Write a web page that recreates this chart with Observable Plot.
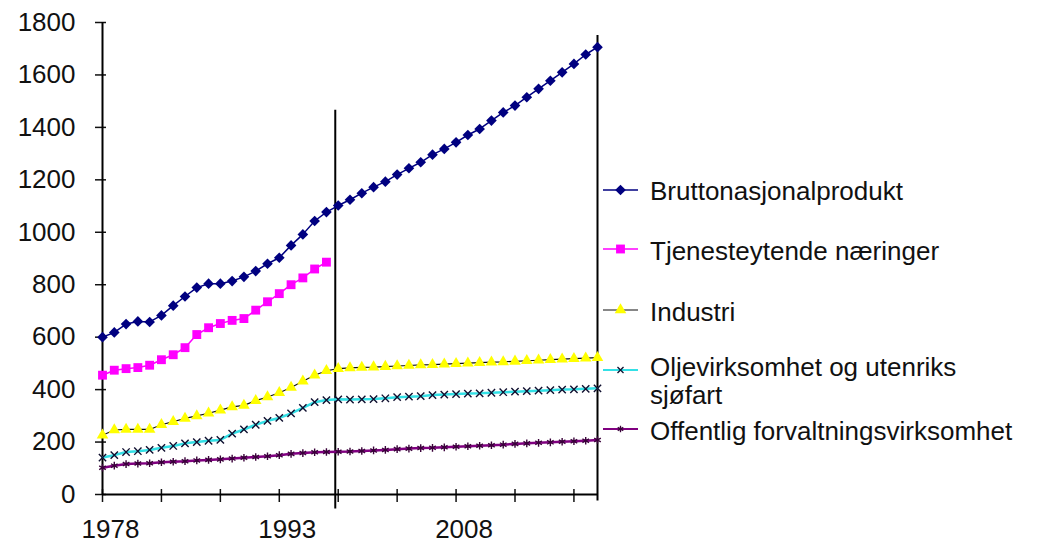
<!DOCTYPE html>
<html><head><meta charset="utf-8">
<script src="https://cdn.jsdelivr.net/npm/d3@7"></script>
<script src="https://cdn.jsdelivr.net/npm/@observablehq/plot@0.6"></script>
<style>
body{margin:0;background:#fff;}
#wrap{position:relative;width:1041px;height:543px;overflow:hidden;font-family:"Liberation Sans",Arial,sans-serif;}
.leg{position:absolute;left:650px;font-size:26px;line-height:23px;height:23px;color:#111;white-space:nowrap;}
.sw{position:absolute;left:600px;}
</style></head><body><div id="wrap"></div>
<script>
// ---------- data ----------
const firstYear = 1978;
const seriesNames = ["Bruttonasjonalprodukt", "Tjenesteytende næringer", "Industri", "Oljevirksomhet og utenriks sjøfart", "Offentlig forvaltningsvirksomhet"];
const legendLines = [["Bruttonasjonalprodukt"], ["Tjenesteytende næringer"], ["Industri"], ["Oljevirksomhet og utenriks", "sjøfart"], ["Offentlig forvaltningsvirksomhet"]];
const bnp = [600,618,650,660,658,683,720,755,789,804,804,814,830,852,880,903,950,992,1043,1077,1102,
             1124,1149,1172,1193,1220,1244,1267,1296,1318,1343,1371,1394,1426,1457,1483,1515,1547,1578,1610,1642,1678,1706];
const tjenester = [455,474,480,484,493,514,533,560,610,636,652,664,671,703,735,766,800,826,860,886];
const industri = [226,246,248,248,248,266,278,290,300,310,322,334,340,358,372,388,408,432,455,472,480,
                  483,485,486,488,490,492,494,495,497,499,501,503,505,506,508,510,512,514,516,518,520,522];
const olje = [141,150,162,165,170,178,185,195,200,205,208,232,248,266,281,292,309,330,352,360,363,
              362,363,364,367,371,373,375,379,381,383,385,386,388,390,392,394,396,398,400,401,403,405];
const offentlig = [102,110,116,118,119,123,125,127,130,132,134,137,140,143,146,150,155,158,161,162,163,
                   164,166,168,170,173,175,177,178,180,182,184,186,188,190,193,195,197,199,201,203,205,208];
const xTickYears = [1978,1983,1988,1993,1998,2003,2008,2013,2018];
const xLabelYears = [1978,1993,2008];
const yTicks = [0,200,400,600,800,1000,1200,1400,1600,1800];
const xDomain = [1978, 2020];
const yDomain = [0, 1800];
const dividerYear = 1997.75, dividerFrom = -55, dividerTo = 1465;
const endYear = 2020, endFrom = -25, endTo = 1750;

// ---------- styles ----------
const styles = [
  {line: "#000080", lw: 1.5, symbol: "diamond2", fill: "#000080", stroke: "none", r: 4.8},
  {line: "#ff00ff", lw: 1.5, symbol: "square", fill: "#ff00ff", stroke: "none", r: 5},
  {line: "#111111", lw: 1.2, symbol: "triangle", fill: "#ffff00", stroke: "none", r: 4.3},
  {line: "#33e0e6", lw: 2.5, symbol: "times", fill: "none", stroke: "#101030", r: 3.4},
  {line: "#800080", lw: 2.5, symbol: "asterisk", fill: "none", stroke: "#3a003a", r: 3.6}
];
const allValues = [bnp, tjenester, industri, olje, offentlig];
const series = allValues.map((vals, i) => vals.map((v, j) => ({year: firstYear + j, value: v, name: seriesNames[i]})));

const marks = [];
series.forEach((d, i) => {
  const s = styles[i];
  marks.push(Plot.line(d, {x: "year", y: "value", stroke: s.line, strokeWidth: s.lw}));
  marks.push(Plot.dot(d, {x: "year", y: "value", symbol: () => s.symbol, r: s.r,
    fill: s.fill, stroke: s.stroke, strokeWidth: s.stroke === "none" ? 0 : 1.4}));
});

const chart = Plot.plot({
  width: 1041, height: 543,
  marginLeft: 102, marginRight: 444, marginTop: 22, marginBottom: 49,
  style: {fontSize: "26px", fontFamily: "Liberation Sans, Arial, sans-serif", color: "#111", background: "#fff"},
  x: {domain: xDomain},
  y: {domain: yDomain},
  symbol: {type: "identity"},
  marks: [
    Plot.axisY({ticks: yTicks, tickSize: 7, tickPadding: 20, tickFormat: "d", strokeWidth: 1.5, label: null}),
    Plot.axisY({ticks: yTicks, tickSize: -4, text: null, strokeWidth: 1.5, label: null}),
    Plot.axisX({ticks: xTickYears, tickSize: 8, text: null, strokeWidth: 1.5, label: null}),
    Plot.axisX({ticks: xTickYears, tickSize: -5, text: null, strokeWidth: 1.5, label: null}),
    Plot.axisX({ticks: xLabelYears, tickSize: 0, tickPadding: 25, tickFormat: "d", dx: 8, label: null}),
    Plot.ruleX([xDomain[0]], {stroke: "#000", strokeWidth: 2}),
    Plot.ruleY([yDomain[0]], {stroke: "#000", strokeWidth: 2}),
    Plot.ruleX([dividerYear], {y1: dividerFrom, y2: dividerTo, stroke: "#000", strokeWidth: 2}),
    Plot.ruleX([endYear], {y1: endFrom, y2: endTo, stroke: "#000", strokeWidth: 2}),
    ...marks
  ]
});
const wrap = document.getElementById("wrap");
wrap.appendChild(chart);

// ---------- legend (HTML overlay on right) ----------
const legendCenters = [190, 249, 310, 370, 429];
const legendTextTops = [179.5, 239.5, 301, 356, 420];
const legendLineStep = 28;
const symMap = {diamond2: d3.symbolDiamond2, square: d3.symbolSquare, triangle: d3.symbolTriangle, times: d3.symbolTimes, asterisk: d3.symbolAsterisk};
seriesNames.forEach((name, i) => {
  const s = styles[i];
  const sw = document.createElementNS("http://www.w3.org/2000/svg", "svg");
  sw.setAttribute("width", 42); sw.setAttribute("height", 22);
  sw.setAttribute("class", "sw");
  sw.style.top = (legendCenters[i] - 11) + "px";
  const path = d3.symbol(symMap[s.symbol], Math.PI * s.r * s.r * (i >= 3 ? 0.7 : 1))();
  sw.innerHTML = `<line x1="3" x2="38" y1="11" y2="11" stroke="${s.line}" stroke-width="${Math.min(s.lw, 2)}"/>` +
    `<path d="${path}" transform="translate(20.5,11)" fill="${s.fill}" stroke="${s.stroke}" stroke-width="${s.stroke === 'none' ? 0 : 1.3}"/>`;
  wrap.appendChild(sw);
  legendLines[i].forEach((line, k) => {
    const t = document.createElement("div");
    t.className = "leg";
    t.style.top = (legendTextTops[i] + k * legendLineStep) + "px";
    t.textContent = line;
    wrap.appendChild(t);
  });
});
</script></body></html>
